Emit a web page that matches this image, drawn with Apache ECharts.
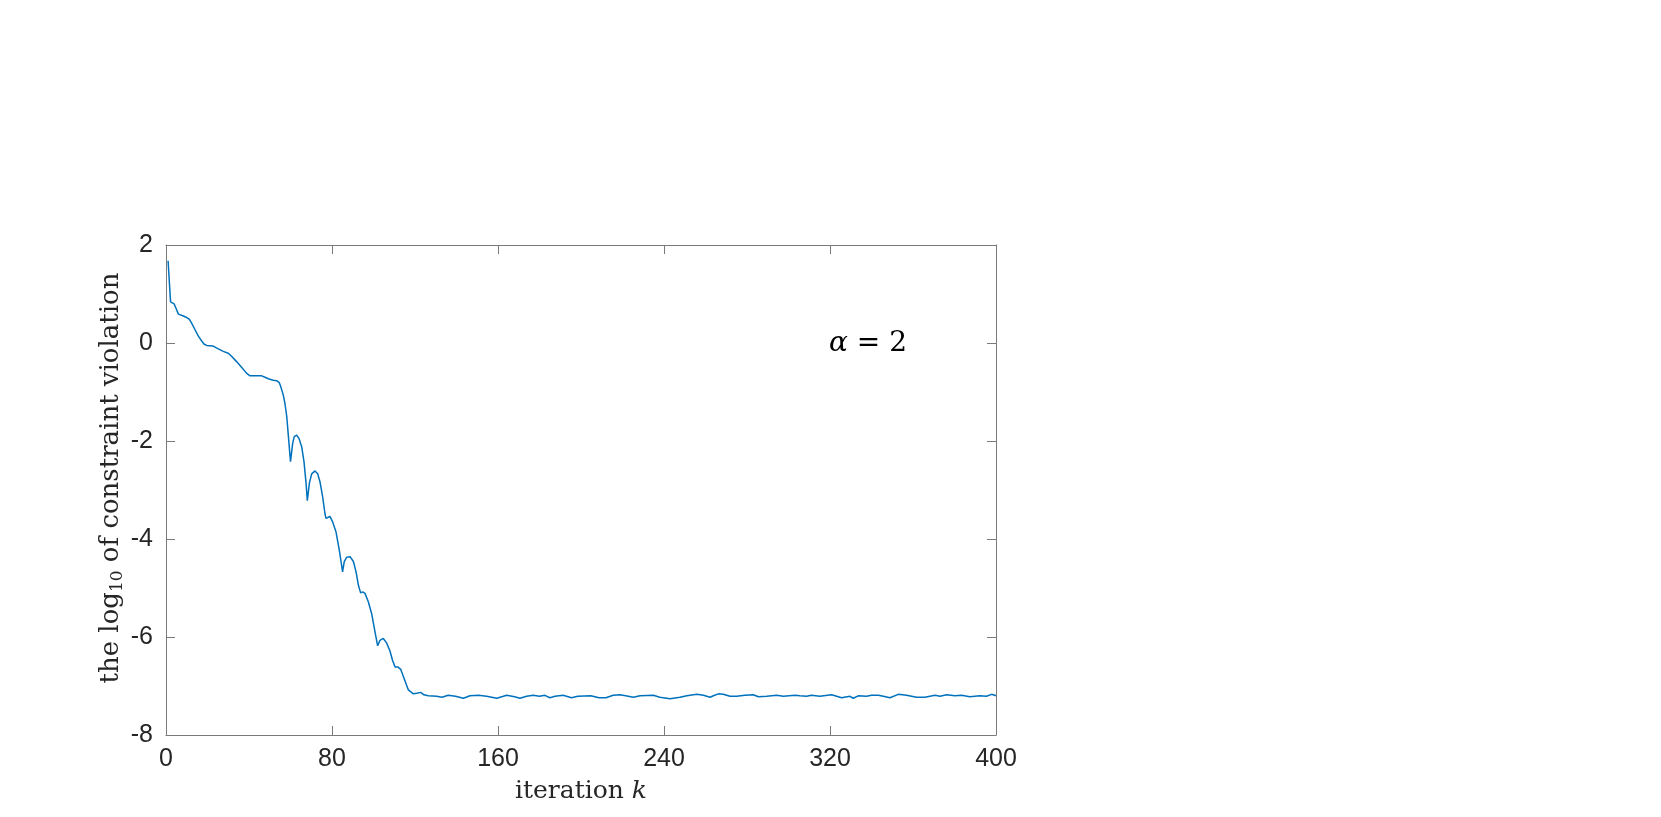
<!DOCTYPE html>
<html>
<head>
<meta charset="utf-8">
<script src="https://cdn.jsdelivr.net/npm/echarts@6/dist/echarts.min.js"></script>
<style>
html,body{margin:0;padding:0;background:#fff;}
#c{width:1661px;height:817px;}
</style>
</head>
<body>
<div id="c"></div>
<script>
// iteration k
var iterations = [1,2.2,3.9,4.8,6,8.4,10,11.3,12.4,14,15.6,17.2,18.3,19.6,22.5,25.2,27.6,30,31.6,34,36.5,38.9,40.5,41.3,46.1,47.7,49.3,51.7,53.3,54.6,55.3,56.5,57.3,58.2,59,60,
61.05,61.8,63,64.1,65.4,66.5,67.5,68.1,69.1,70.2,71.8,73.1,74.2,75.5,76.6,77.1,77.9,79,80.3,81.9,83.5,84.5,85.1,85.9,87.1,88.7,90.3,91.6,92.7,93.8,94.8,95.9,97.5,99.1,100.7,102,103.1,104.7,106.3,107.9,109.2,110.4,111.7,113.1,114.7,116.8,119.2,120.8,122.7,124.3,126.4,
130.4,133,136,139.5,143.3,146.5,150.6,154.5,159.4,164.2,168,170.6,173.8,177,180,182.6,185,187.5,191.4,195.4,198.5,204.7,208.7,212,215.5,218.7,221.5,225.2,228.5,234.9,238,242.9,247.7,251,255.8,259,262.2,263.8,266.2,268.6,271.8,275,279,283,285.5,289.5,294.3,297.5,303.2,305.5,308.7,311.1,315.1,320.8,325.6,329.6,331.2,333.6,337.6,340,343.3,345.7,348.9,352.9,356.9,361.7,365.7,370.6,373,376.2,380.2,383.4,387.4,392.2,395.4,397.9,400];
// log10 of constraint violation
var logViolation = [1.68,0.84,0.80,0.71,0.59,0.55,0.52,0.48,0.40,0.27,0.14,0.04,-0.02,-0.05,-0.06,-0.12,-0.17,-0.21,-0.27,-0.38,-0.50,-0.62,-0.67,-0.67,-0.67,-0.70,-0.73,-0.76,-0.77,-0.81,-0.89,-1.06,-1.23,-1.50,-1.91,-2.42,
-2.05,-1.91,-1.88,-1.95,-2.12,-2.42,-2.86,-3.22,-2.86,-2.67,-2.61,-2.67,-2.83,-3.14,-3.48,-3.58,-3.54,-3.54,-3.65,-3.85,-4.22,-4.50,-4.67,-4.46,-4.37,-4.36,-4.46,-4.67,-4.94,-5.10,-5.08,-5.11,-5.28,-5.52,-5.89,-6.18,-6.07,-6.03,-6.12,-6.28,-6.48,-6.61,-6.61,-6.66,-6.84,-7.08,-7.16,-7.15,-7.13,-7.18,-7.20,
-7.21,-7.23,-7.19,-7.21,-7.25,-7.20,-7.19,-7.21,-7.25,-7.19,-7.22,-7.25,-7.21,-7.19,-7.21,-7.19,-7.24,-7.21,-7.19,-7.24,-7.21,-7.20,-7.24,-7.24,-7.19,-7.18,-7.20,-7.23,-7.20,-7.19,-7.23,-7.26,-7.23,-7.20,-7.17,-7.19,-7.23,-7.20,-7.16,-7.17,-7.21,-7.21,-7.19,-7.18,-7.22,-7.21,-7.19,-7.21,-7.19,-7.20,-7.21,-7.19,-7.21,-7.18,-7.24,-7.21,-7.25,-7.20,-7.21,-7.19,-7.19,-7.21,-7.24,-7.17,-7.19,-7.23,-7.23,-7.19,-7.21,-7.18,-7.20,-7.19,-7.22,-7.20,-7.21,-7.17,-7.20];
var xTicks = [0,80,160,240,320,400];
var yTicks = [-8,-6,-4,-2,0,2];

var axisColor = '#7a7a7a';
var labelColor = '#262626';
var serif = '"DejaVu Serif","Liberation Serif",serif';
var sans = '"Liberation Sans",Arial,Helvetica,sans-serif';

var chart = echarts.init(document.getElementById('c'), null, {renderer:'canvas'});
var pts = iterations.map(function(x,i){return [x, logViolation[i]];});

function axisCommon(){
  return {
    axisLine:{show:true,onZero:false,lineStyle:{color:axisColor,width:1}},
    axisTick:{show:true,inside:true,length:9,lineStyle:{color:axisColor,width:1}},
    splitLine:{show:false}
  };
}
var xBottom = Object.assign(axisCommon(), {
  type:'value', position:'bottom', min:xTicks[0], max:xTicks[xTicks.length-1], interval:80,
  axisLabel:{color:labelColor,fontFamily:sans,fontSize:25,margin:12},
  name:'{a|iteration }{k|k}', nameLocation:'middle', nameGap:44,
  nameTextStyle:{rich:{a:{fontFamily:serif,fontSize:25,color:labelColor},k:{fontFamily:serif,fontStyle:'italic',fontSize:25,color:labelColor}}}
});
var xTop = Object.assign(axisCommon(), {
  type:'value', position:'top', min:0, max:400, interval:80, axisLabel:{show:false}
});
var yLeft = Object.assign(axisCommon(), {
  type:'value', position:'left', min:yTicks[0], max:yTicks[yTicks.length-1], interval:2,
  axisLabel:{color:labelColor,fontFamily:sans,fontSize:25,margin:13},
  name:'{a|the log}{s|10}{a| of constraint violation}', nameLocation:'middle', nameGap:40,
  nameTextStyle:{padding:[0,0,0,24],rich:{
    a:{fontFamily:serif,fontSize:26,color:labelColor,lineHeight:30,verticalAlign:'middle'},
    s:{fontFamily:serif,fontSize:17,color:labelColor,lineHeight:30,verticalAlign:'bottom',padding:[10,0,0,0]}
  }}
});
var yRight = Object.assign(axisCommon(), {
  type:'value', position:'right', min:-8, max:2, interval:2, axisLabel:{show:false}
});

chart.setOption({
  backgroundColor:'#ffffff',
  animation:false,
  grid:{left:166,right:665,top:245,bottom:82,containLabel:false},
  xAxis:[xBottom, xTop],
  yAxis:[yLeft, yRight],
  series:[{
    type:'line', xAxisIndex:0, yAxisIndex:0, data:pts, showSymbol:false, smooth:false,
    lineStyle:{color:'#0072BD',width:1.5}
  }],
  graphic:[{
    type:'text', left:829, top:330,
    style:{
      text:'{i|α} = 2',
      rich:{i:{fontFamily:serif,fontStyle:'italic',fontSize:28,fill:'#000'}},
      fontFamily:serif, fontSize:28, fill:'#000'
    }
  }]
});
</script>
</body>
</html>
